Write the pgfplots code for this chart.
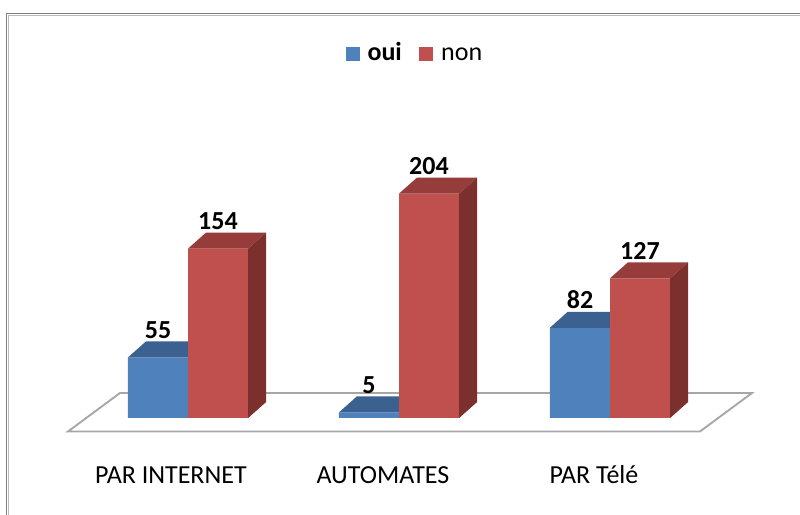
\documentclass[border=0pt]{standalone}
\usepackage{pgfplots}
\pgfplotsset{compat=1.18}
\usepackage{fontspec}
\setmainfont{Carlito}
\definecolor{bluefront}{HTML}{4F81BD}
\definecolor{bluetop}{HTML}{3B6191}
\definecolor{redfront}{HTML}{C0504D}
\definecolor{redtop}{HTML}{963C3A}
\definecolor{redside}{HTML}{7B302E}
\definecolor{floorline}{HTML}{A6A6A6}
\definecolor{framedark}{HTML}{808080}
\definecolor{framelight}{HTML}{B9B9B9}
\newcommand{\bigf}{\fontsize{19.5}{23}\selectfont}
\begin{document}
\begin{tikzpicture}
\begin{axis}[
  scale only axis,
  width=600pt, height=386.25pt,
  xmin=-0.891, xmax=2.9005,
  ymin=-88.18, ymax=380,
  hide axis,
  /pgf/number format/assume math mode=true,
  legend columns=2,
  legend style={draw=none, fill=none, at={(0.519,0.895)}, anchor=center,
    font=\bigf,
    /tikz/every odd column/.append style={column sep=4pt},
    /tikz/every even column/.append style={column sep=11pt},
    nodes={text height=10pt, text depth=0pt},
    cells={anchor=west}},
]
% frame
\draw[framedark, line width=1.3pt] (axis description cs:0.0081,0) -- (axis description cs:0.0081,0.9738) -- (axis description cs:1,0.9738);
\draw[framelight, line width=1.1pt] (axis description cs:0.0106,0) -- (axis description cs:0.0106,0.9700) -- (axis description cs:1,0.9700);
% floor
\addplot[fill=white, draw=floorline, line width=1.4pt, forget plot] coordinates {(-0.5687,-12.27) (2.4265,-12.27) (2.673,22.73) (-0.3223,22.73)} -- cycle;
% blue bars
\addplot[ybar, bar width=0.285, bar shift=-0.1425, fill=bluefront, draw=none,
  nodes near coords, nodes near coords style={anchor=base, yshift=14.25pt, xshift=-22.5pt, font=\bigf\bfseries, text=black},
  legend image code/.code={\fill[bluefront] (0pt,-5.25pt) rectangle (10.5pt,5.25pt);}]
  coordinates {(0,55) (1,5) (2,82)};
\addlegendentry{\textbf{oui}}
\addplot[fill=bluetop, draw=none, forget plot] coordinates {(-0.285,55) (0,55) (0.0853,69.55) (-0.1997,69.55)} -- cycle;
\addplot[fill=bluetop, draw=none, forget plot] coordinates {(0.715,5) (1,5) (1.0853,19.55) (0.7997,19.55)} -- cycle;
\addplot[fill=bluetop, draw=none, forget plot] coordinates {(1.715,82) (2,82) (2.0853,96.55) (1.7997,96.55)} -- cycle;
% red bars
\addplot[ybar, bar width=0.285, bar shift=0.1425, fill=redfront, draw=none,
  nodes near coords, nodes near coords style={anchor=base, yshift=14.25pt, xshift=22.5pt, font=\bigf\bfseries, text=black},
  legend image code/.code={\fill[redfront] (0pt,-5.25pt) rectangle (10.5pt,5.25pt);}]
  coordinates {(0,154) (1,204) (2,127)};
\addlegendentry{non}
\addplot[fill=redtop, draw=none, forget plot] coordinates {(0,154) (0.285,154) (0.3703,168.55) (0.0853,168.55)} -- cycle;
\addplot[fill=redside, draw=none, forget plot] coordinates {(0.285,0) (0.3703,14.55) (0.3703,168.55) (0.285,154)} -- cycle;
\addplot[fill=redtop, draw=none, forget plot] coordinates {(1,204) (1.285,204) (1.3703,218.55) (1.0853,218.55)} -- cycle;
\addplot[fill=redside, draw=none, forget plot] coordinates {(1.285,0) (1.3703,14.55) (1.3703,218.55) (1.285,204)} -- cycle;
\addplot[fill=redtop, draw=none, forget plot] coordinates {(2,127) (2.285,127) (2.3703,141.55) (2.0853,141.55)} -- cycle;
\addplot[fill=redside, draw=none, forget plot] coordinates {(2.285,0) (2.3703,14.55) (2.3703,141.55) (2.285,127)} -- cycle;
% category labels
\node[anchor=base, font=\bigf] at (axis cs:-0.0806,-59.1) {PAR INTERNET};
\node[anchor=base, font=\bigf] at (axis cs:0.924,-59.1) {AUTOMATES};
\node[anchor=base, font=\bigf] at (axis cs:1.924,-59.1) {PAR Télé};
\end{axis}
\pgfresetboundingbox
\path[use as bounding box] (current axis.south west) rectangle (current axis.north east);
\end{tikzpicture}
\end{document}
